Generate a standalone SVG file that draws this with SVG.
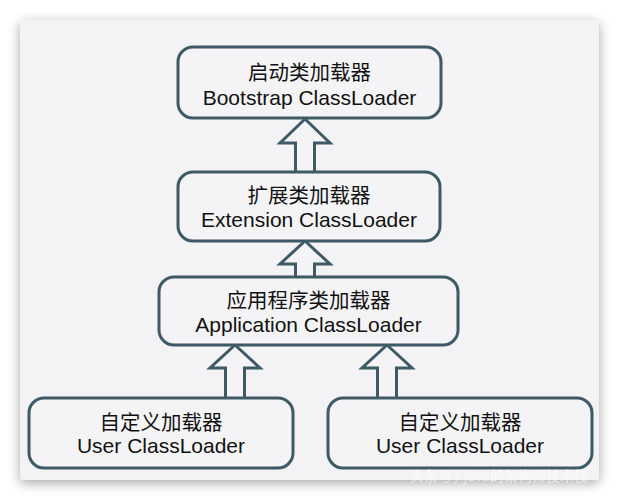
<svg xmlns="http://www.w3.org/2000/svg" width="619" height="501" viewBox="0 0 619 501">
  <defs>
    <filter id="shadow" x="-10%" y="-10%" width="120%" height="120%">
      <feDropShadow dx="0" dy="3" stdDeviation="6" flood-color="#000" flood-opacity="0.35"/>
    </filter>
    <style>
      .box { fill: #f4f4f6; stroke: #3e5a65; stroke-width: 3; }
      .arrow { fill: #f4f4f6; stroke: #3e5a65; stroke-width: 3; stroke-linejoin: miter; }
      .label { font-family: "Liberation Sans", "Noto Sans CJK SC", sans-serif; font-size: 21px; fill: #111; text-anchor: middle; }
      .zh { font-family: "Noto Sans CJK SC", "Liberation Sans", sans-serif; font-size: 20.5px; }
      .wm { font-family: "Noto Sans CJK SC", "Liberation Sans", sans-serif; font-size: 14px; fill: #ffffff; opacity: 0.6; text-anchor: end; }
    </style>
  </defs>
  <rect width="619" height="501" fill="#ffffff"/>
  <rect x="20" y="20" width="579" height="460" rx="4" fill="#f3f3f5" filter="url(#shadow)"/>

  <g id="connectors">
    <polyline class="arrow" points="295.5,171 295.5,143 280,143 305,119 330,143 314.5,143 314.5,171"/>
    <polyline class="arrow" points="295.5,277 295.5,264 280,264 305,241 330,264 314.5,264 314.5,277"/>
    <polyline class="arrow" points="225.5,398 225.5,368 210,368 235,345 260,368 244.5,368 244.5,398"/>
    <polyline class="arrow" points="377.5,398 377.5,368 362,368 387,345 412,368 396.5,368 396.5,398"/>
  </g>

  <g id="bootstrap">
    <rect class="box" x="178" y="47" width="263" height="71" rx="15"/>
    <text class="label zh" x="309.5" y="80">启动类加载器</text>
    <text class="label" x="309.5" y="105">Bootstrap ClassLoader</text>
  </g>
  <g id="extension">
    <rect class="box" x="178" y="172" width="262" height="69" rx="15"/>
    <text class="label zh" x="309" y="203">扩展类加载器</text>
    <text class="label" x="309" y="227">Extension ClassLoader</text>
  </g>
  <g id="application">
    <rect class="box" x="159" y="277" width="299" height="68" rx="15"/>
    <text class="label zh" x="308.5" y="308">应用程序类加载器</text>
    <text class="label" x="308.5" y="332">Application ClassLoader</text>
  </g>
  <g id="user1">
    <rect class="box" x="29" y="398" width="264" height="70" rx="15"/>
    <text class="label zh" x="161" y="430">自定义加载器</text>
    <text class="label" x="161" y="453">User ClassLoader</text>
  </g>
  <g id="user2">
    <rect class="box" x="328" y="398" width="264" height="70" rx="15"/>
    <text class="label zh" x="460" y="430">自定义加载器</text>
    <text class="label" x="460" y="453">User ClassLoader</text>
  </g>
  <text class="wm" x="588" y="481">头条号 / java的架构师技术栈</text>
</svg>
